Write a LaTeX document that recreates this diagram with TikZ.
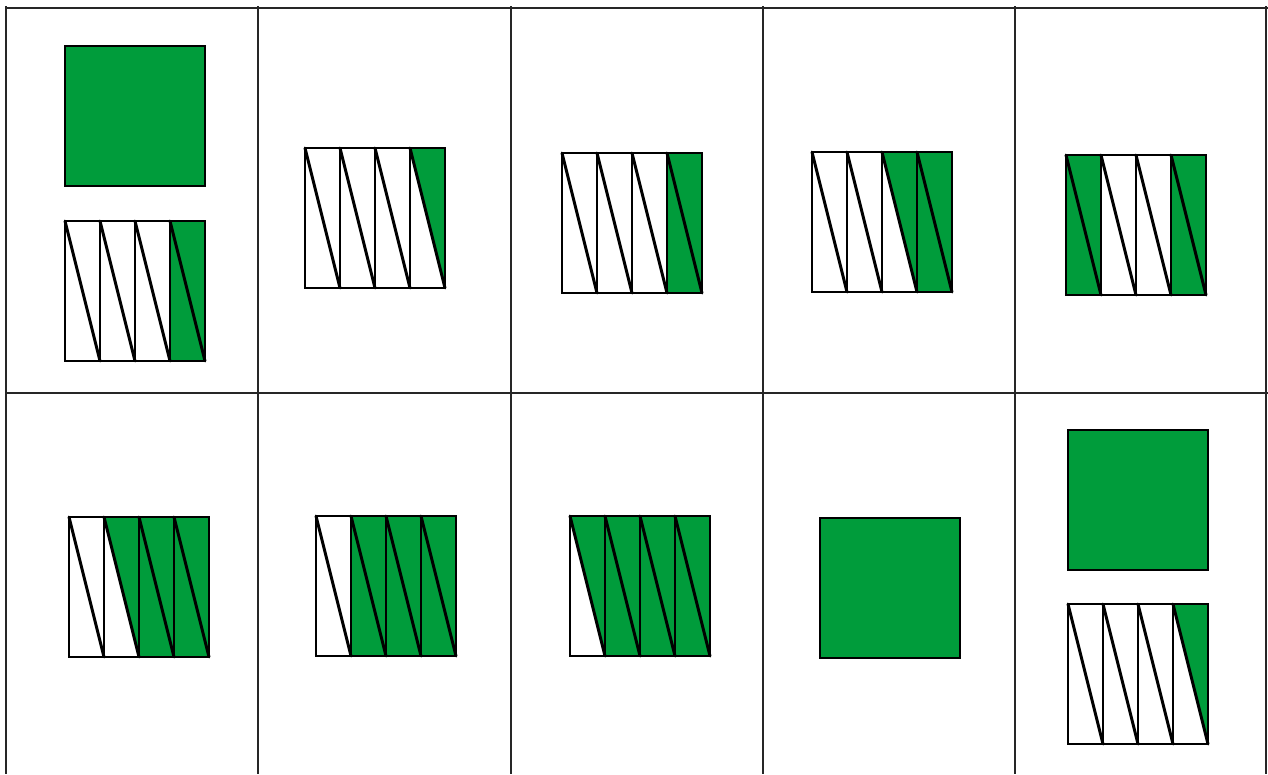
\documentclass[tikz,border=0pt]{standalone}
\definecolor{gr}{RGB}{0,156,59}
\tikzset{
  gridline/.style={line width=2pt, draw=black!85},
  sqline/.style={line width=2.2pt, draw=black},
  diagline/.style={line width=3pt, draw=black, line cap=round},
  greenfill/.style={fill=gr}
}
\newcommand\fracsq[3]{%
  \foreach \s [count=\i from 0] in {#3} {
    \ifnum\s=2 \fill[greenfill] (#1+35*\i,#2) rectangle ++(35,140); \fi
    \ifnum\s=1 \fill[greenfill] (#1+35*\i,#2) -- ++(35,0) -- ++(0,140) -- cycle; \fi
  }
  \foreach \i in {0,1,2,3} \draw[diagline] (#1+35*\i,#2) -- ++(35,140);
  \foreach \i in {1,2,3} \draw[sqline] (#1+35*\i,#2) -- ++(0,140);
  \draw[sqline] (#1,#2) rectangle ++(140,140);
}
\newcommand\fullsq[2]{%
  \draw[sqline, greenfill] (#1,#2) rectangle ++(140,140);
}
\begin{document}
\begin{tikzpicture}[x=1pt,y=-1pt]
\useasboundingbox (0,0) rectangle (1268,774);
\fill[white] (0,0) rectangle (1268,774);
% grid
\foreach \gx in {6,258,511,763,1015,1266} \draw[gridline] (\gx,6) -- (\gx,774);
\draw[gridline] (6,8) -- (1268,8);
\draw[gridline] (6,393) -- (1268,393);
% row 1
\fullsq{65}{46}
\fracsq{65}{221}{0,0,0,2}
\fracsq{305}{148}{0,0,0,1}
\fracsq{562}{153}{0,0,0,2}
\fracsq{812}{152}{0,0,1,2}
\fracsq{1066}{155}{2,0,0,2}
% row 2
\fracsq{69}{517}{0,1,2,2}
\fracsq{316}{516}{0,2,2,2}
\fracsq{570}{516}{1,2,2,2}
\fullsq{820}{518}
\fullsq{1068}{430}
\fracsq{1068}{604}{0,0,0,1}
\end{tikzpicture}
\end{document}
